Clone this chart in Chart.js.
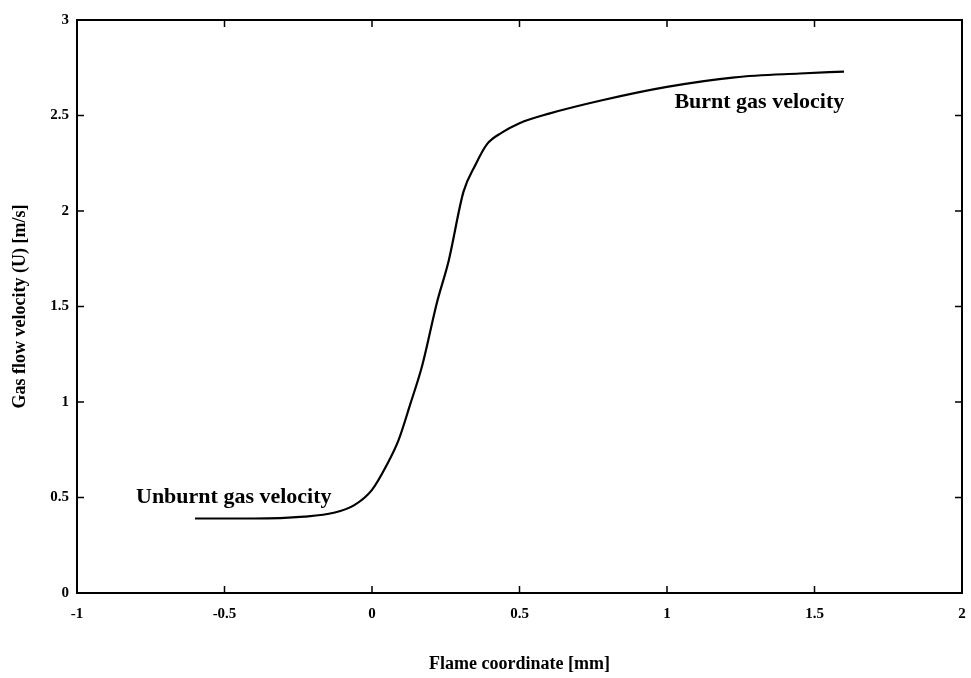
<!DOCTYPE html>
<html>
<head>
<meta charset="utf-8">
<script src="https://cdn.jsdelivr.net/npm/chart.js@4.4.1/dist/chart.umd.min.js"></script>
<style>
  html, body { margin: 0; padding: 0; background: #fff; }
  #wrap { width: 971px; height: 678px; }
</style>
</head>
<body>
<div id="wrap"><canvas id="grafico" width="971" height="678"></canvas></div>
<script>
// valores
const coordX = [-0.6, -0.4, -0.23, -0.13, -0.06, 0, 0.05, 0.09, 0.13, 0.17, 0.22, 0.26, 0.31, 0.35, 0.39, 0.44, 0.5, 0.6, 0.78, 1.0, 1.23, 1.45, 1.6]
const velocidad = [0.39, 0.39, 0.40, 0.42, 0.46, 0.54, 0.67, 0.80, 0.99, 1.19, 1.52, 1.74, 2.10, 2.24, 2.35, 2.41, 2.46, 2.51, 2.58, 2.65, 2.70, 2.72, 2.73]
const xTicks = [-1, -0.5, 0, 0.5, 1, 1.5, 2]
const yTicks = [0, 0.5, 1, 1.5, 2, 2.5, 3]
const etiquetas = [
  { text: 'Unburnt gas velocity', x: -0.8, y: 0.5 },
  { text: 'Burnt gas velocity', x: 1.025, y: 2.57 }
]

const fuente = '"Liberation Serif", "DejaVu Serif", serif'
const puntos = coordX.map((x, i) => ({ x: x, y: velocidad[i] }))

// marco, ticks hacia dentro y textos sobre la curva
const marco = {
  id: 'marco',
  afterDraw(chart) {
    const ctx = chart.ctx
    const a = chart.chartArea
    const sx = chart.scales.x
    const sy = chart.scales.y
    ctx.save()
    ctx.strokeStyle = '#000'
    ctx.lineWidth = 2
    ctx.strokeRect(a.left, a.top, a.right - a.left, a.bottom - a.top)
    ctx.lineWidth = 1.5
    ctx.beginPath()
    xTicks.forEach(v => {
      const px = sx.getPixelForValue(v)
      ctx.moveTo(px, a.bottom); ctx.lineTo(px, a.bottom - 7)
      ctx.moveTo(px, a.top); ctx.lineTo(px, a.top + 7)
    })
    yTicks.forEach(v => {
      const py = sy.getPixelForValue(v)
      ctx.moveTo(a.left, py); ctx.lineTo(a.left + 7, py)
      ctx.moveTo(a.right, py); ctx.lineTo(a.right - 7, py)
    })
    ctx.stroke()
    ctx.fillStyle = '#000'
    ctx.font = 'bold 22px ' + fuente
    ctx.textAlign = 'left'
    ctx.textBaseline = 'middle'
    etiquetas.forEach(e => {
      ctx.fillText(e.text, sx.getPixelForValue(e.x), sy.getPixelForValue(e.y))
    })
    ctx.restore()
  }
}

function formato(v) {
  return String(Number(v.toFixed(2)))
}

const config = {
  type: 'line',
  data: {
    datasets: [
      {
        data: puntos,
        borderColor: '#000',
        borderWidth: 2.2,
        pointRadius: 0,
        fill: false,
        cubicInterpolationMode: 'monotone'
      }
    ]
  },
  options: {
    responsive: false,
    animation: false,
    layout: { padding: { top: 20, right: 0, left: 0, bottom: 0 } },
    plugins: {
      legend: { display: false },
      tooltip: { enabled: false }
    },
    scales: {
      x: {
        type: 'linear',
        min: -1,
        max: 2,
        afterBuildTicks: s => { s.ticks = xTicks.map(v => ({ value: v })) },
        afterFit: s => {
          s.height = 85
          s.paddingLeft = 0
          s.paddingRight = 9
        },
        grid: { display: false, drawTicks: false },
        border: { display: false },
        ticks: {
          color: '#000',
          padding: 12,
          font: { family: fuente, size: 15, weight: 'bold' },
          callback: formato
        },
        title: {
          display: true,
          text: 'Flame coordinate [mm]',
          color: '#000',
          font: { family: fuente, size: 18, weight: 'bold' },
          padding: { top: 0, bottom: 3 }
        }
      },
      y: {
        type: 'linear',
        min: 0,
        max: 3,
        afterBuildTicks: s => { s.ticks = yTicks.map(v => ({ value: v })) },
        afterFit: s => { s.width = 77 },
        grid: { display: false, drawTicks: false },
        border: { display: false },
        ticks: {
          color: '#000',
          padding: 8,
          font: { family: fuente, size: 15, weight: 'bold' },
          callback: formato
        },
        title: {
          display: true,
          text: 'Gas flow velocity (U) [m/s]',
          color: '#000',
          font: { family: fuente, size: 18, weight: 'bold' },
          padding: { top: 10, bottom: 0 }
        }
      }
    }
  },
  plugins: [marco]
}

const grafico = new Chart(document.getElementById('grafico'), config)
</script>
</body>
</html>
